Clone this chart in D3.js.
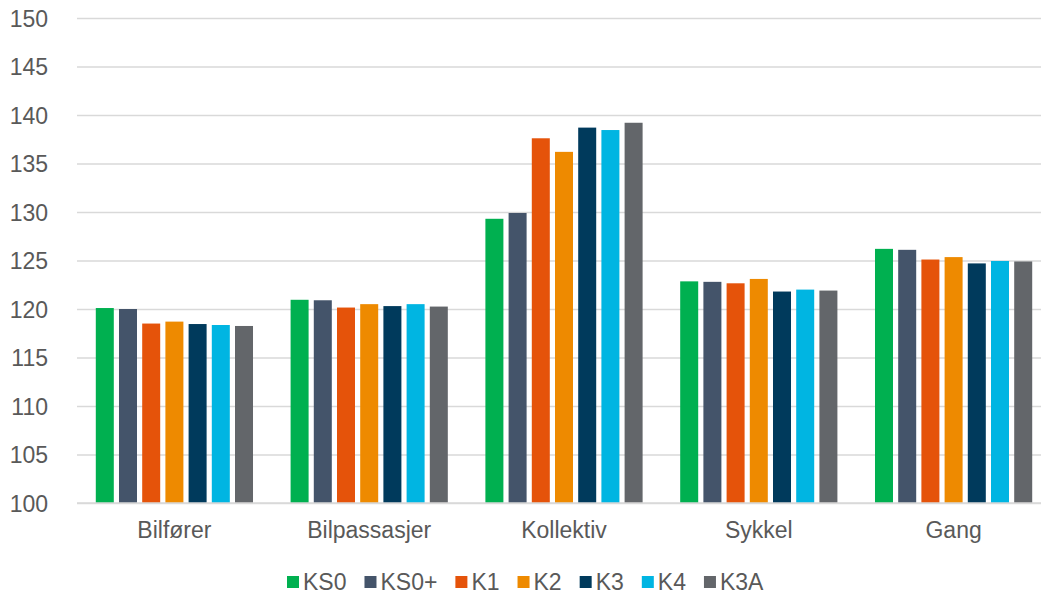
<!DOCTYPE html>
<html><head><meta charset="utf-8">
<script src="https://cdn.jsdelivr.net/npm/d3@7"></script>
<style>
html,body{margin:0;padding:0;background:#fff;}
svg{display:block;font-family:"Liberation Sans",Arial,sans-serif;}
</style></head>
<body>
<svg id="chart" width="1041" height="594"></svg>
<script>
const categories = ["Bilfører", "Bilpassasjer", "Kollektiv", "Sykkel", "Gang"];
const seriesNames = ["KS0", "KS0+", "K1", "K2", "K3", "K4", "K3A"];
const seriesColors = ["#00B050", "#44546A", "#E5530A", "#EE8A00", "#003A5C", "#00B5E2", "#63666A"];
const KS0  = [120.1, 120.95, 129.3, 122.85, 126.2];
const KS0p = [120.0, 120.9, 129.9, 122.8, 126.1];
const K1   = [118.5, 120.15, 137.6, 122.65, 125.1];
const K2   = [118.7, 120.5, 136.2, 123.1, 125.35];
const K3   = [118.45, 120.3, 138.7, 121.8, 124.7];
const K4   = [118.35, 120.5, 138.45, 122.0, 124.95];
const K3A  = [118.25, 120.25, 139.2, 121.9, 124.9];
const seriesValues = [KS0, KS0p, K1, K2, K3, K4, K3A];
const yTicks = [100, 105, 110, 115, 120, 125, 130, 135, 140, 145, 150];

const svg = d3.select("#chart");
const textColor = "#595959";
const fontSize = 23;

const x0 = d3.scaleBand().domain(categories).range([77, 1051]).paddingInner(0).paddingOuter(0);
const x1 = d3.scaleBand().domain(seriesNames).range([0, x0.bandwidth()]).paddingInner(0.224).paddingOuter(0.81);
const y = d3.scaleLinear().domain([100, 150]).range([503, 18]);

// gridlines + y tick labels
const yAxis = d3.axisLeft(y).tickValues(yTicks).tickSize(-(1051 - 77)).tickPadding(29).tickFormat(d3.format("d"));
const gAxis = svg.append("g").attr("transform", "translate(77,0)").call(yAxis);
gAxis.select(".domain").remove();
gAxis.selectAll(".tick line").attr("stroke", "#d9d9d9").attr("stroke-width", 1.5);
gAxis.selectAll(".tick text").attr("fill", textColor).attr("font-size", fontSize)
  .attr("font-family", "'Liberation Sans', Arial, sans-serif").attr("dy", "0.36em");

// bars
const data = [];
categories.forEach((c, ci) => {
  seriesNames.forEach((s, si) => {
    data.push({cat: c, series: s, value: seriesValues[si][ci], color: seriesColors[si]});
  });
});
svg.append("g").selectAll("rect").data(data).join("rect")
  .attr("x", d => x0(d.cat) + x1(d.series))
  .attr("width", x1.bandwidth())
  .attr("y", d => y(d.value))
  .attr("height", d => y(100) - y(d.value))
  .attr("fill", d => d.color);

// baseline on top
svg.append("line").attr("x1", 77).attr("x2", 1051).attr("y1", y(100)).attr("y2", y(100))
  .attr("stroke", "#d9d9d9").attr("stroke-width", 1.5);

// category axis
const xAxis = d3.axisBottom(x0).tickSize(0).tickPadding(19);
const gx = svg.append("g").attr("transform", `translate(0,${y(100)})`).call(xAxis);
gx.select(".domain").remove();
gx.selectAll(".tick text").attr("fill", textColor).attr("font-size", fontSize)
  .attr("font-family", "'Liberation Sans', Arial, sans-serif");

// legend
const legend = svg.append("g");
let lx = 287;
const ly = 582;
seriesNames.forEach((s, i) => {
  legend.append("rect").attr("x", lx).attr("y", ly - 6).attr("width", 12).attr("height", 12).attr("fill", seriesColors[i]);
  const t = legend.append("text").attr("x", lx + 16).attr("y", ly).attr("dy", "0.36em")
    .attr("fill", textColor).attr("font-size", fontSize).text(s);
  lx += 16 + t.node().getComputedTextLength() + 18;
});
</script>
</body></html>
